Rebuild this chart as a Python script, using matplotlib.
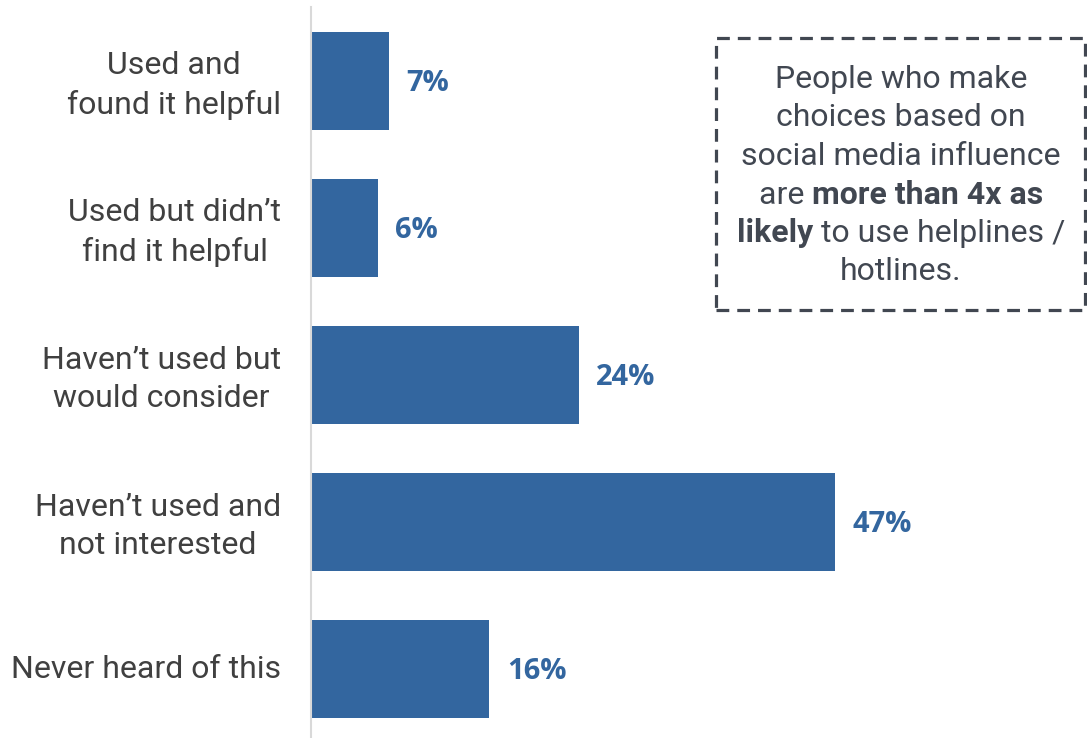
import matplotlib
matplotlib.use('Agg')
import matplotlib.pyplot as plt
import matplotlib.transforms as mtransforms
from matplotlib.patches import Rectangle

plt.rcParams['font.family'] = 'Roboto'

categories = ['Used and\nfound it helpful', 'Used but didn\u2019t\nfind it helpful',
              'Haven\u2019t used but\nwould consider', 'Haven\u2019t used and\nnot interested',
              'Never heard of this']
values = [7, 6, 24, 47, 16]

# callout text: list of lines, each a list of (text, bold) pieces
note_lines = [
    [('People who make', False)],
    [('choices based on', False)],
    [('social media influence', False)],
    [('are ', False), ('more than 4x as', True)],
    [('likely', True), (' to use helplines /', False)],
    [('hotlines.', False)],
]

bar_color = '#33669f'
label_color = '#404040'
note_color = '#414751'

fig = plt.figure(figsize=(10.87, 7.38), dpi=100)
ax = fig.add_axes([311 / 1087, 0, 1 - 311 / 1087, 731 / 738])

pos = list(range(len(values)))
ax.barh(pos, values, height=0.667, color=bar_color)
ax.set_ylim(4.469, -0.503)
ax.set_xlim(0, 69.6)

for p, v in zip(pos, values):
    ax.annotate(f'{v}%', (v, p), xytext=(12.5, -2), textcoords='offset points',
                ha='left', va='center', fontsize=21, fontweight='bold',
                color=bar_color, family='Open Sans')

ax.set_yticks(pos)
ax.set_yticklabels(categories, fontsize=23, color=label_color, linespacing=1.38,
                   ha='right', multialignment='center')
ax.tick_params(axis='y', length=0, pad=21.5)
ax.set_xticks([])
shift = mtransforms.ScaledTranslation(0, 3 / 100, fig.dpi_scale_trans)
for t in ax.get_yticklabels():
    t.set_transform(t.get_transform() + shift)

for s in ['top', 'right', 'bottom']:
    ax.spines[s].set_visible(False)
ax.spines['left'].set_color('#d9d9d9')
ax.spines['left'].set_linewidth(1.5)

# dashed callout box
W, H = 1087, 738
box = Rectangle((716 / W, 1 - 310 / H), (1085 - 716) / W, (310 - 38) / H,
                transform=fig.transFigure, fill=False, edgecolor=note_color,
                linewidth=2.3, linestyle=(0, (4, 2.5)))
fig.add_artist(box)

fig.canvas.draw()
renderer = fig.canvas.get_renderer()
cx = 901 / W
y0 = 79.5
for i, line in enumerate(note_lines):
    y = 1 - (y0 + i * 38.5) / H
    pieces = []
    for txt, bold in line:
        t = fig.text(0, y, txt, fontsize=23, color=note_color, va='center',
                     ha='left', fontweight='bold' if bold else 'normal')
        pieces.append(t)
    widths = [t.get_window_extent(renderer).width / W for t in pieces]
    x = cx - sum(widths) / 2
    for t, w in zip(pieces, widths):
        t.set_x(x)
        x += w

fig.savefig('out.png', dpi=100)
